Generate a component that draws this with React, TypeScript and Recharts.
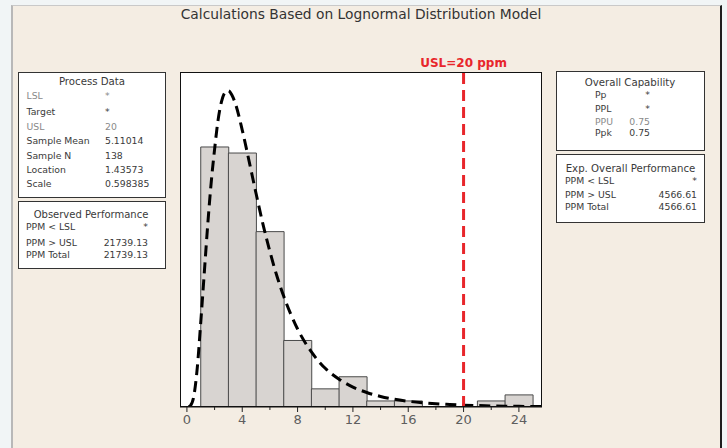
import React from 'react';
import {
  Bar,
  CartesianGrid,
  ComposedChart,
  Line,
  ReferenceLine,
  XAxis,
  YAxis,
} from 'recharts';

// histogram bins (width 2), centre and count
const binCenters = [2, 4, 6, 8, 10, 12, 14, 16, 18, 20, 22, 24];
const binCounts = [43, 42, 29, 11, 3, 5, 1, 1, 0, 0, 1, 2];

// fitted lognormal curve (count scale)
const curveX = [
  0.1, 0.25, 0.5, 0.75, 1, 1.25, 1.5, 1.75, 2, 2.25, 2.5, 2.75, 3, 3.25, 3.5, 4,
  4.5, 5, 5.5, 6, 6.5, 7, 7.5, 8, 9, 10, 11, 12, 13, 14, 15, 16, 17, 18, 19, 20,
  21, 22, 23, 24, 25, 25.6,
];
const curveY = [
  0, 0.2, 1.8, 6.5, 14, 22, 30, 37, 42.6, 47.4, 50.5, 52, 52.3, 51.6, 50.2,
  45.8, 40.6, 35.3, 30.2, 25.7, 21.7, 18.3, 15.4, 12.9, 9.1, 6.4, 4.6, 3.3, 2.4,
  1.74, 1.28, 0.95, 0.71, 0.53, 0.41, 0.31, 0.24, 0.18, 0.14, 0.11, 0.085, 0.07,
];

// every 2 units gets a tick, labels only on multiples of 4
const axisTicks = [0, 2, 4, 6, 8, 10, 12, 14, 16, 18, 20, 22, 24];
const usl = 20;

const title = 'Calculations Based on Lognormal Distribution Model';

const processData = [
  ['LSL', '*'],
  ['Target', '*'],
  ['USL', '20'],
  ['Sample Mean', '5.11014'],
  ['Sample N', '138'],
  ['Location', '1.43573'],
  ['Scale', '0.598385'],
];
const observedPerf = [
  ['PPM < LSL', '*'],
  ['PPM > USL', '21739.13'],
  ['PPM Total', '21739.13'],
];
const overallCap = [
  ['Pp', '*'],
  ['PPL', '*'],
  ['PPU', '0.75'],
  ['Ppk', '0.75'],
];
const expPerf = [
  ['PPM < LSL', '*'],
  ['PPM > USL', '4566.61'],
  ['PPM Total', '4566.61'],
];

const bins = binCenters.map((x, i) => ({ x, count: binCounts[i] }));
const curve = curveX.map((x, i) => ({ x, density: curveY[i] }));

const font = 'DejaVu Sans, Verdana, sans-serif';
const txt = '#3a3a3a';
const faint = '#8a8a8a';
const xDomain: [number, number] = [-0.5, 25.67];

function AxisTick(props: any) {
  const { x, y, payload } = props;
  const major = payload.value % 4 === 0;
  return (
    <g>
      <line x1={x} x2={x} y1={y} y2={y + (major ? 5 : 3)} stroke="#222" />
      {major && (
        <text
          x={x}
          y={y + 12}
          textAnchor="middle"
          dominantBaseline="central"
          fill="#5e5e5e"
          fontSize={13}
          fontFamily={font}
        >
          {payload.value}
        </text>
      )}
    </g>
  );
}

export default function App() {
  const procY = [95, 111.7, 126.7, 140.7, 155, 169, 183.3];
  const obsY = [226.7, 242.2, 254.3];
  const capY = [94.3, 108.3, 121, 132.7];
  const expY = [180.7, 194.5, 206];

  return (
    <div
      style={{
        position: 'absolute',
        left: 0,
        top: 0,
        width: 727,
        height: 448,
        background: '#f1f5f6',
        overflow: 'hidden',
      }}
    >
      <div
        style={{
          position: 'absolute',
          left: 11,
          top: 5,
          width: 707,
          height: 448,
          background: '#f4ede3',
          borderLeft: '2px solid #b8b8b8',
          borderTop: '1px solid #c9c9c9',
          borderRight: '2px solid #1e1e1e',
        }}
      />
      <div style={{ position: 'absolute', left: 0, top: 0 }}>
        <ComposedChart
          width={727}
          height={448}
          data={bins}
          margin={{ top: 72, left: 180, right: 185, bottom: 11 }}
          barCategoryGap={0}
          barGap={0}
        >
          <CartesianGrid
            xAxisId="main"
            fill="#ffffff"
            horizontal={false}
            vertical={false}
          />
          <XAxis
            xAxisId="main"
            dataKey="x"
            type="number"
            domain={xDomain}
            allowDataOverflow
            ticks={axisTicks}
            interval={0}
            tickSize={0}
            tickMargin={0}
            height={30}
            tick={<AxisTick />}
            tickLine={false}
            axisLine={{ stroke: '#111' }}
          />
          <XAxis
            xAxisId="zcurve"
            dataKey="x"
            type="number"
            domain={xDomain}
            allowDataOverflow
            height={0}
            hide
          />
          <YAxis hide domain={[0, 55.4]} allowDataOverflow />
          <Bar
            xAxisId="main"
            dataKey="count"
            fill="#d8d4d1"
            stroke="#4a4a4a"
            strokeWidth={1}
            isAnimationActive={false}
          />
          <Line
            xAxisId="zcurve"
            data={curve}
            dataKey="density"
            type="monotone"
            stroke="#000"
            strokeWidth={3}
            strokeDasharray="11 6"
            dot={false}
            activeDot={false}
            isAnimationActive={false}
          />
          <ReferenceLine
            xAxisId="main"
            x={usl}
            stroke="#e8262b"
            strokeWidth={3}
            strokeDasharray="11 6"
            label={{
              value: 'USL=20 ppm',
              position: 'top',
              offset: 5,
              fill: '#e8262b',
              fontSize: 12,
              fontWeight: 'bold',
              fontFamily: font,
            }}
          />
        </ComposedChart>
      </div>
      <svg
        width={727}
        height={448}
        style={{ position: 'absolute', left: 0, top: 0, pointerEvents: 'none' }}
        fontFamily={font}
      >
        <rect x={180.5} y={72.5} width={361} height={334} fill="none" stroke="#111" />
        <text x={361} y={14} fontSize={13.8} fill="#333" textAnchor="middle" dominantBaseline="central">
          {title}
        </text>

        <rect x={18.5} y={72.5} width={147} height={125} fill="#fff" stroke="#333" />
        <text x={92} y={81.7} fontSize={10.2} fill={txt} textAnchor="middle" dominantBaseline="central">
          Process Data
        </text>
        {processData.map(([k, v], i) => (
          <g key={k} fontSize={9.3} fill={i === 0 || i === 2 ? faint : txt}>
            <text x={26.5} y={procY[i]} dominantBaseline="central">{k}</text>
            <text x={105} y={procY[i]} dominantBaseline="central">{v}</text>
          </g>
        ))}

        <rect x={18.5} y={201.5} width={147} height={67} fill="#fff" stroke="#333" />
        <text x={91} y={214.3} fontSize={10} fill={txt} textAnchor="middle" dominantBaseline="central">
          Observed Performance
        </text>
        {observedPerf.map(([k, v], i) => (
          <g key={k} fontSize={9.3} fill={txt}>
            <text x={26} y={obsY[i]} dominantBaseline="central">{k}</text>
            <text x={148} y={obsY[i]} textAnchor="end" dominantBaseline="central">{v}</text>
          </g>
        ))}

        <rect x={556.5} y={71.5} width={148} height={79} fill="#fff" stroke="#333" />
        <text x={630} y={82.7} fontSize={10.2} fill={txt} textAnchor="middle" dominantBaseline="central">
          Overall Capability
        </text>
        {overallCap.map(([k, v], i) => (
          <g key={k} fontSize={9.3} fill={i === 2 ? faint : txt}>
            <text x={595} y={capY[i]} dominantBaseline="central">{k}</text>
            <text x={650} y={capY[i]} textAnchor="end" dominantBaseline="central">{v}</text>
          </g>
        ))}

        <rect x={556.5} y={154.5} width={148} height={68} fill="#fff" stroke="#333" />
        <text x={630.5} y={168.3} fontSize={10.2} fill={txt} textAnchor="middle" dominantBaseline="central">
          Exp. Overall Performance
        </text>
        {expPerf.map(([k, v], i) => (
          <g key={k} fontSize={9.3} fill={txt}>
            <text x={565} y={expY[i]} dominantBaseline="central">{k}</text>
            <text x={697} y={expY[i]} textAnchor="end" dominantBaseline="central">{v}</text>
          </g>
        ))}
      </svg>
    </div>
  );
}
